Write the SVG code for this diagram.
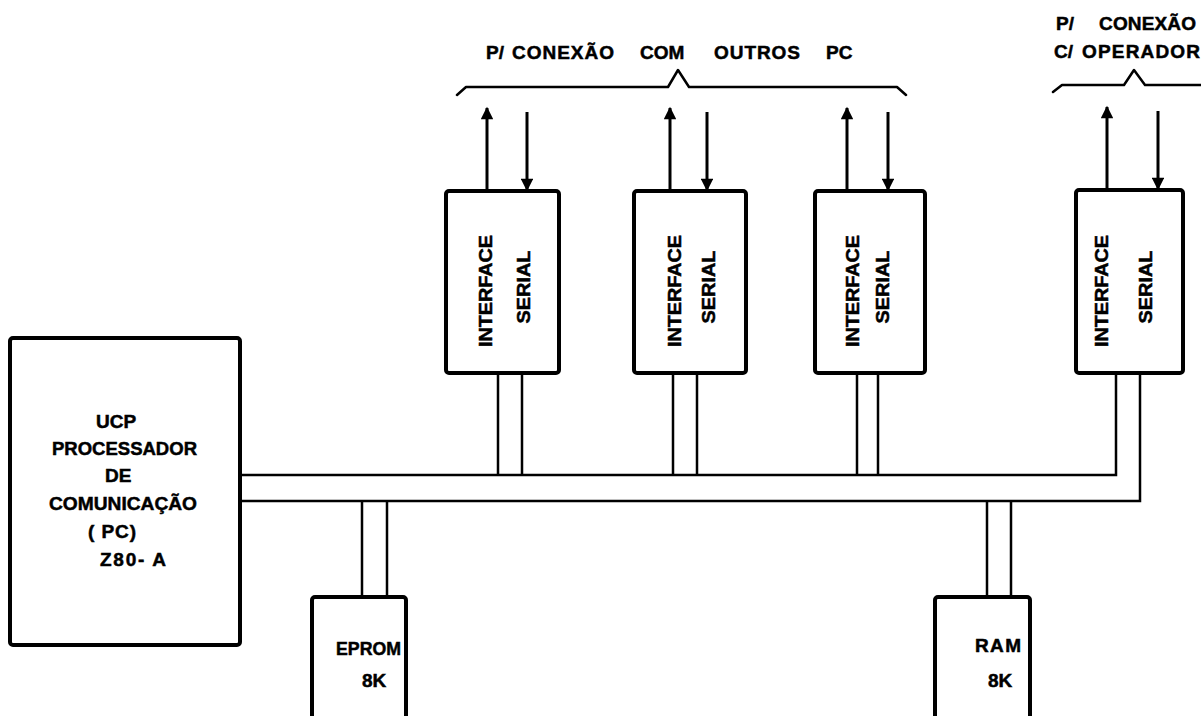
<svg xmlns="http://www.w3.org/2000/svg" width="1201" height="716" viewBox="0 0 1201 716">
<defs>
<style>
.box{fill:#fff;stroke:#000;stroke-width:4;stroke-linejoin:round}
.wire{fill:none;stroke:#000;stroke-width:2.5;stroke-linejoin:miter}
.arr{fill:none;stroke:#000;stroke-width:3}
.brace{fill:none;stroke:#000;stroke-width:2.5;stroke-linejoin:round;stroke-linecap:round}
.t{font-family:"Liberation Sans",Arial,sans-serif;font-weight:bold;font-size:19px;fill:#000;stroke:#000;stroke-width:0.5}
.c{text-anchor:middle}
</style>
<marker id="ah" viewBox="0 0 10 10" refX="9" refY="5" markerWidth="5" markerHeight="4.2" orient="auto" markerUnits="strokeWidth">
<path d="M0,0 L10,5 L0,10 z" fill="#000"/>
</marker>
</defs>
<rect width="1201" height="716" fill="#fff"/>

<g id="connectors">
<path class="wire" d="M240,475 H1116 V373"/>
<path class="wire" d="M240,501 H1140 V373"/>
<path class="wire" d="M498,373 V475 M522,373 V475"/>
<path class="wire" d="M673,373 V475 M697,373 V475"/>
<path class="wire" d="M857,373 V475 M878,373 V475"/>
<path class="wire" d="M362,501 V597 M387,501 V597"/>
<path class="wire" d="M987,501 V597 M1011,501 V597"/>
<path class="arr" d="M487,191 V108" marker-end="url(#ah)"/>
<path class="arr" d="M527,112 V190" marker-end="url(#ah)"/>
<path class="arr" d="M670,191 V108" marker-end="url(#ah)"/>
<path class="arr" d="M707,112 V190" marker-end="url(#ah)"/>
<path class="arr" d="M847,191 V108" marker-end="url(#ah)"/>
<path class="arr" d="M888,112 V190" marker-end="url(#ah)"/>
<path class="arr" d="M1107,190 V107" marker-end="url(#ah)"/>
<path class="arr" d="M1158,111 V189" marker-end="url(#ah)"/>
<path class="brace" d="M457,95 L466,87 H668 L678,70 L689,87 H897 L906,95"/>
<path class="brace" d="M1053,92 L1062,85 H1124 L1134,70 L1145,85 H1201"/>
</g>

<g id="label-outros">
<text class="t" x="486" y="59">P/</text>
<text class="t" x="512" y="59" textLength="102" lengthAdjust="spacing">CONEXÃO</text>
<text class="t" x="640" y="59">COM</text>
<text class="t" x="714" y="59" textLength="86" lengthAdjust="spacing">OUTROS</text>
<text class="t" x="826" y="59">PC</text>
</g>

<g id="label-operador">
<text class="t" x="1056" y="30">P/</text>
<text class="t" x="1099" y="30" textLength="97" lengthAdjust="spacing">CONEXÃO</text>
<text class="t" x="1054" y="58">C/</text>
<text class="t" x="1082" y="58" textLength="118" lengthAdjust="spacing">OPERADOR</text>
</g>

<g id="ucp">
<rect class="box" x="10" y="338" width="230" height="307" rx="3"/>
<text class="t" x="96" y="428">UCP</text>
<text class="t" x="52" y="455" textLength="145" lengthAdjust="spacingAndGlyphs">PROCESSADOR</text>
<text class="t" x="105" y="482">DE</text>
<text class="t" x="49" y="510" textLength="148" lengthAdjust="spacingAndGlyphs">COMUNICAÇÃO</text>
<text class="t" x="88" y="538" textLength="48" lengthAdjust="spacing">( PC)</text>
<text class="t" x="100" y="566" textLength="66" lengthAdjust="spacing">Z80- A</text>
</g>

<g id="serial1">
<rect class="box" x="446" y="191" width="113" height="182" rx="3"/>
<text class="t c" transform="translate(492,291) rotate(-90)" textLength="112" lengthAdjust="spacingAndGlyphs">INTERFACE</text>
<text class="t c" transform="translate(530,287) rotate(-90)" textLength="73" lengthAdjust="spacingAndGlyphs">SERIAL</text>
</g>

<g id="serial2">
<rect class="box" x="634" y="191" width="112" height="182" rx="3"/>
<text class="t c" transform="translate(681,291) rotate(-90)" textLength="112" lengthAdjust="spacingAndGlyphs">INTERFACE</text>
<text class="t c" transform="translate(715,287) rotate(-90)" textLength="73" lengthAdjust="spacingAndGlyphs">SERIAL</text>
</g>

<g id="serial3">
<rect class="box" x="815" y="191" width="110" height="182" rx="3"/>
<text class="t c" transform="translate(859,291) rotate(-90)" textLength="112" lengthAdjust="spacingAndGlyphs">INTERFACE</text>
<text class="t c" transform="translate(889,287) rotate(-90)" textLength="73" lengthAdjust="spacingAndGlyphs">SERIAL</text>
</g>

<g id="serial4">
<rect class="box" x="1076" y="190" width="107" height="183" rx="3"/>
<text class="t c" transform="translate(1108,291) rotate(-90)" textLength="112" lengthAdjust="spacingAndGlyphs">INTERFACE</text>
<text class="t c" transform="translate(1152,287) rotate(-90)" textLength="73" lengthAdjust="spacingAndGlyphs">SERIAL</text>
</g>

<g id="eprom">
<rect class="box" x="312" y="597" width="94" height="140" rx="3"/>
<text class="t" x="336" y="655" textLength="65" lengthAdjust="spacingAndGlyphs">EPROM</text>
<text class="t" x="362" y="687">8K</text>
</g>

<g id="ram">
<rect class="box" x="935" y="597" width="95" height="140" rx="3"/>
<text class="t" x="975" y="652" textLength="46" lengthAdjust="spacing">RAM</text>
<text class="t" x="988" y="687">8K</text>
</g>
</svg>
